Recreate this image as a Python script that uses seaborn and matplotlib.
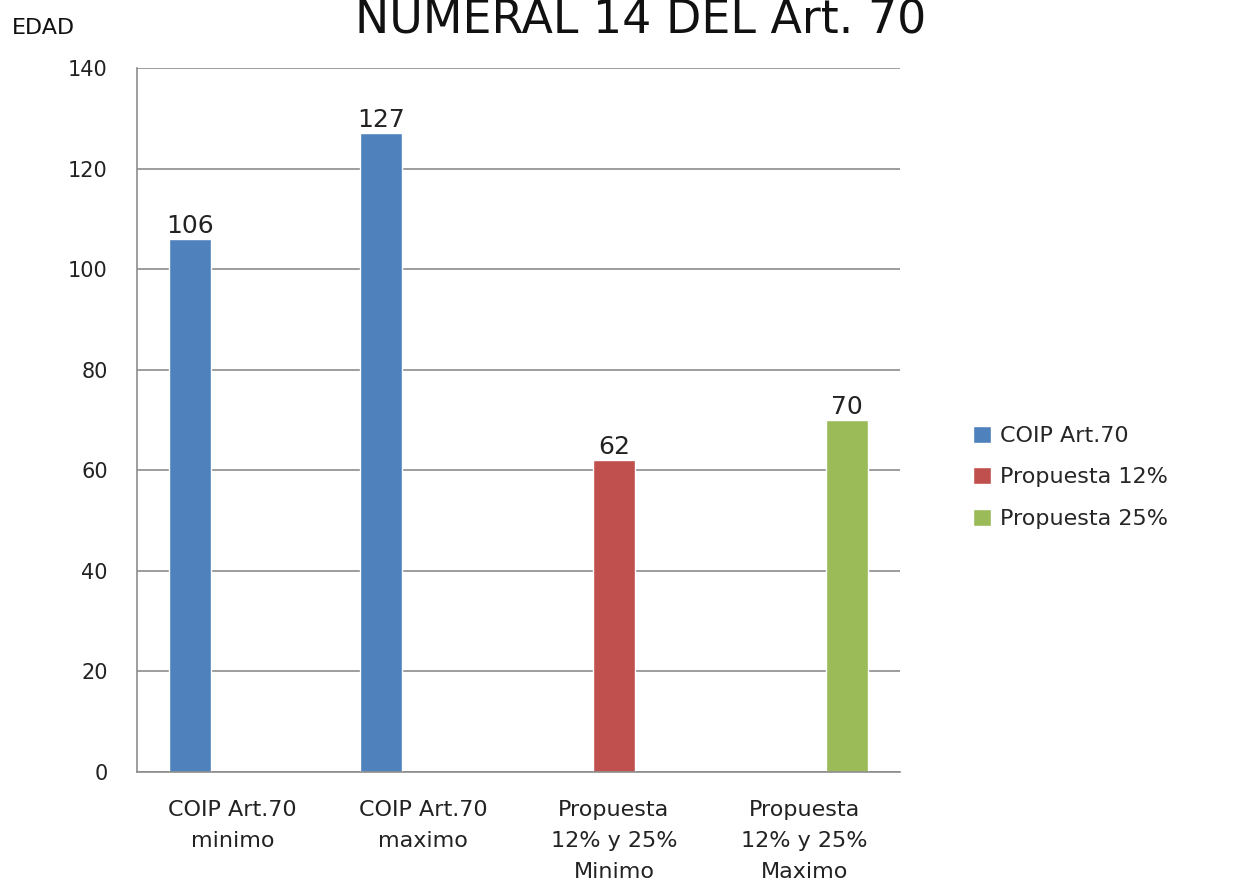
import matplotlib
matplotlib.use("Agg")
import matplotlib.pyplot as plt
import seaborn as sns
import pandas as pd

# datos
categorias = ["COIP Art.70\nminimo", "COIP Art.70\nmaximo",
              "Propuesta\n12% y 25%\nMinimo", "Propuesta\n12% y 25%\nMaximo"]
series = ["COIP Art.70", "COIP Art.70", "Propuesta 12%", "Propuesta 25%"]
valores = [106, 127, 62, 70]
orden_series = ["COIP Art.70", "Propuesta 12%", "Propuesta 25%"]
colores = ["#4F81BD", "#C0504D", "#9BBB59"]

df = pd.DataFrame({"categoria": categorias, "serie": series, "edad": valores})

sns.set_style("white")
plt.rcParams['font.family'] = ['DejaVu Sans']

fig = plt.figure(figsize=(12.39, 8.83), dpi=100)
ax = fig.add_axes([0.1106, 0.1257, 0.6158, 0.7973])

sns.barplot(data=df, x="categoria", y="edad", hue="serie", hue_order=orden_series,
            order=categorias, palette=colores, width=0.66, dodge=True, saturation=1,
            ax=ax, errorbar=None)

for c in ax.containers:
    ax.bar_label(c, fontsize=18, color="#222222", padding=1)

ax.set_ylim(0, 140)
ax.set_xlim(-0.5, 3.5)
ax.set_yticks(range(0, 141, 20))
ax.yaxis.grid(True, color="#8C8C8C", linewidth=1.2)
ax.set_axisbelow(True)
ax.set_xlabel("")
ax.set_ylabel("")

for s in ["top", "right"]:
    ax.spines[s].set_visible(False)
for s in ["left", "bottom"]:
    ax.spines[s].set_color("#8C8C8C")
    ax.spines[s].set_linewidth(1.2)

ax.tick_params(axis="y", labelsize=15, length=9, color="#8C8C8C", width=1.2, pad=12,
               labelcolor="#222222")
ax.tick_params(axis="x", which="major", labelsize=16, length=0, pad=20,
               labelcolor="#222222")
ax.set_xticks([-0.5, 0.5, 1.5, 2.5, 3.5], minor=True)
ax.tick_params(axis="x", which="minor", length=8, color="#8C8C8C", width=1.2)
for t in ax.get_xticklabels():
    t.set_linespacing(1.7)

sns.move_legend(ax, "upper left", bbox_to_anchor=(1.07, 0.52), frameon=False,
                title=None, fontsize=16, handlelength=0.8, handleheight=0.8,
                handletextpad=0.4, labelspacing=0.95)

fig.text(0.517, 1 - 34 / 883, "NUMERAL 14 DEL Art. 70", ha="center", va="baseline",
         fontsize=33, color="#111111")
fig.text(12 / 1239, 1 - 28 / 883, "EDAD", ha="left", va="center", fontsize=16,
         color="#111111")

fig.savefig("out.png", dpi=100)
